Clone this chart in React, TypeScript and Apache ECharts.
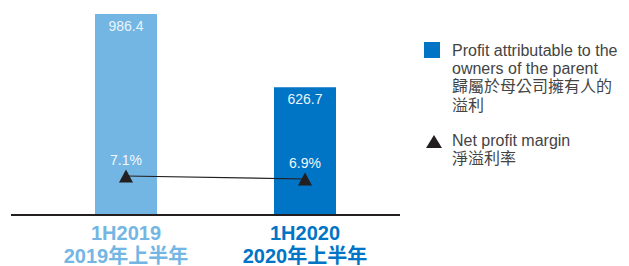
import React, { useEffect, useRef } from "react";
import * as echarts from "echarts";

const categories = ["1H2019\n2019年上半年", "1H2020\n2020年上半年"];
const profitValues = [986.4, 626.7];
const marginValues = [7.1, 6.9];
const barColors = ["#74B6E3", "#0074C5"];
const legendProfitText = "Profit attributable to the\nowners of the parent\n歸屬於母公司擁有人的\n溢利";
const legendMarginText = "Net profit margin\n淨溢利率";

const FONT = "'Liberation Sans', Arial, Helvetica, 'Noto Sans CJK TC', sans-serif";

export default function App() {
  const ref = useRef<HTMLDivElement>(null);
  useEffect(() => {
    if (!ref.current) return;
    const chart = echarts.init(ref.current, null, { renderer: "svg" });
    chart.setOption({
      animation: false,
      textStyle: { fontFamily: FONT },
      grid: { left: 36.5, top: 14, width: 358, bottom: 51, containLabel: false },
      xAxis: {
        type: "category",
        data: categories,
        axisLine: { show: false },
        axisTick: { show: false },
        axisLabel: {
          margin: 6,
          interval: 0,
          formatter: (v: string, i: number) =>
            v.split("\n").map((s) => `{c${i}|${s}}`).join("\n"),
          rich: {
            c0: { color: barColors[0], fontSize: 20, fontWeight: "bold", lineHeight: 23, fontFamily: FONT },
            c1: { color: barColors[1], fontSize: 20, fontWeight: "bold", lineHeight: 23, fontFamily: FONT },
          },
        },
      },
      yAxis: [
        { type: "value", min: 0, max: 986.4, show: false, splitLine: { show: false } },
        { type: "value", min: 4.5, max: 17.9, show: false, splitLine: { show: false } },
      ],
      series: [
        {
          type: "bar",
          name: "Profit",
          barWidth: 62,
          data: profitValues.map((v, i) => ({ value: v, itemStyle: { color: barColors[i] } })),
          label: {
            show: true,
            position: "insideTop",
            distance: 5,
            color: "#EAF4FB",
            fontSize: 14,
            fontFamily: FONT,
            formatter: (p: any) => p.value.toFixed(1),
          },
        },
        {
          type: "line",
          name: "Margin",
          yAxisIndex: 1,
          data: marginValues,
          symbol: "triangle",
          symbolSize: [14, 13],
          itemStyle: { color: "#231F20" },
          lineStyle: { color: "#231F20", width: 1.2 },
          label: {
            show: true,
            position: "top",
            distance: 3,
            color: "#F2F8FC",
            fontSize: 14,
            fontFamily: FONT,
            formatter: (p: any) => p.value.toFixed(1) + "%",
          },
          z: 5,
        },
      ],
      graphic: [
        {
          type: "line",
          shape: { x1: 11, y1: 215, x2: 400, y2: 215 },
          style: { stroke: "#231F20", lineWidth: 2 },
          z: 10,
        },
        {
          type: "rect",
          shape: { x: 424, y: 42, width: 16, height: 16 },
          style: { fill: "#0074C5" },
        },
        {
          type: "text",
          x: 452,
          y: 41,
          style: {
            text: legendProfitText,
            fontSize: 16,
            lineHeight: 18.3,
            fill: "#444444",
            fontFamily: FONT,
            verticalAlign: "top",
          },
        },
        {
          type: "polygon",
          shape: { points: [[426, 148], [434, 135], [442, 148]] },
          style: { fill: "#231F20" },
        },
        {
          type: "text",
          x: 452,
          y: 131,
          style: {
            text: legendMarginText,
            fontSize: 16,
            lineHeight: 18.3,
            fill: "#444444",
            fontFamily: FONT,
            verticalAlign: "top",
          },
        },
      ],
    });
    return () => chart.dispose();
  }, []);
  return (
    <div
      ref={ref}
      style={{ position: "fixed", left: 0, top: 0, width: 629, height: 266, background: "#fff" }}
    />
  );
}
